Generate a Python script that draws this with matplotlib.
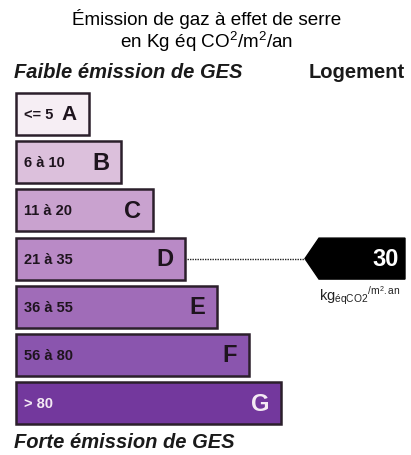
import matplotlib.pyplot as plt
from matplotlib.patches import Polygon

plt.rcParams['font.family'] = ['Liberation Sans', 'DejaVu Sans']
plt.rcParams['mathtext.fontset'] = 'custom'
plt.rcParams['mathtext.rm'] = 'Liberation Sans'
plt.rcParams['mathtext.it'] = 'Liberation Sans:italic'
plt.rcParams['mathtext.bf'] = 'Liberation Sans:bold'

# GES classes
letters = ['A', 'B', 'C', 'D', 'E', 'F', 'G']
ranges = ['<= 5', '6 à 10', '11 à 20', '21 à 35', '36 à 55', '56 à 80', '> 80']
colors = ['#f6eef4', '#dcc0dc', '#c9a2cf', '#b98ac6', '#a06cb8', '#8a55ae', '#73389d']
value = 30
value_class = 'D'

fig = plt.figure(figsize=(4.11, 4.55), dpi=100)
ax = fig.add_axes([0, 0, 1, 1])
ax.set_xlim(0, 411)
ax.set_ylim(455, 0)
ax.axis('off')

# titles
ax.text(207, 19, 'Émission de gaz à effet de serre', ha='center', va='center', fontsize=13.6)
ax.text(207, 42, 'en Kg éq CO$^2$/m$^2$/an', ha='center', va='center', fontsize=13.6)
ax.text(14, 73, 'Faible émission de GES', ha='left', va='center', fontsize=14.5,
        fontweight='bold', style='italic', color='#1a1a1a')
ax.text(405, 73, 'Logement', ha='right', va='center', fontsize=14.5,
        fontweight='bold', color='#1a1a1a')
ax.text(14, 442, 'Forte émission de GES', ha='left', va='center', fontsize=14.5,
        fontweight='bold', style='italic', color='#1a1a1a')

# bars
left = 16
pitch = 48.2
height = 42
ys = [114 + i * pitch for i in range(len(letters))]
widths = [73 + 32 * i for i in range(len(letters))]
ax.barh(ys, widths, height=height, left=left, color=colors,
        edgecolor='#2b1f2b', linewidth=1.8)

for i, (y, w, let, rng) in enumerate(zip(ys, widths, letters, ranges)):
    txtcol = '#f4eaf4' if let == 'G' else '#1e141e'
    ax.text(left + 8, y + 1, rng, ha='left', va='center', fontsize=10.5,
            fontweight='bold', color=txtcol)
    ax.text(left + w - 12, y + 1, let, ha='right', va='center',
            fontsize=15 if let == 'A' else 17, fontweight='bold', color=txtcol)

# value marker
iv = letters.index(value_class)
yv = ys[iv]
xend = left + widths[iv]
tip = 305
ax.plot([xend + 2, tip], [yv, yv], color='#222222', linestyle=(0, (1, 0.8)), linewidth=1.0)
arrow = Polygon([(tip, yv), (319, yv - 20.5), (405, yv - 20.5), (405, yv + 20.5), (319, yv + 20.5)],
                closed=True, facecolor='black', edgecolor='black')
ax.add_patch(arrow)
ax.text(399, yv + 1, str(value), ha='right', va='center', fontsize=17,
        fontweight='bold', color='white')
ax.text(360, 296, r'kg$_{\mathrm{éqCO2}}$$^{\mathrm{/m^2.an}}$', ha='center', va='center',
        fontsize=10.5, color='#222222')

fig.savefig('out.png', dpi=100)
